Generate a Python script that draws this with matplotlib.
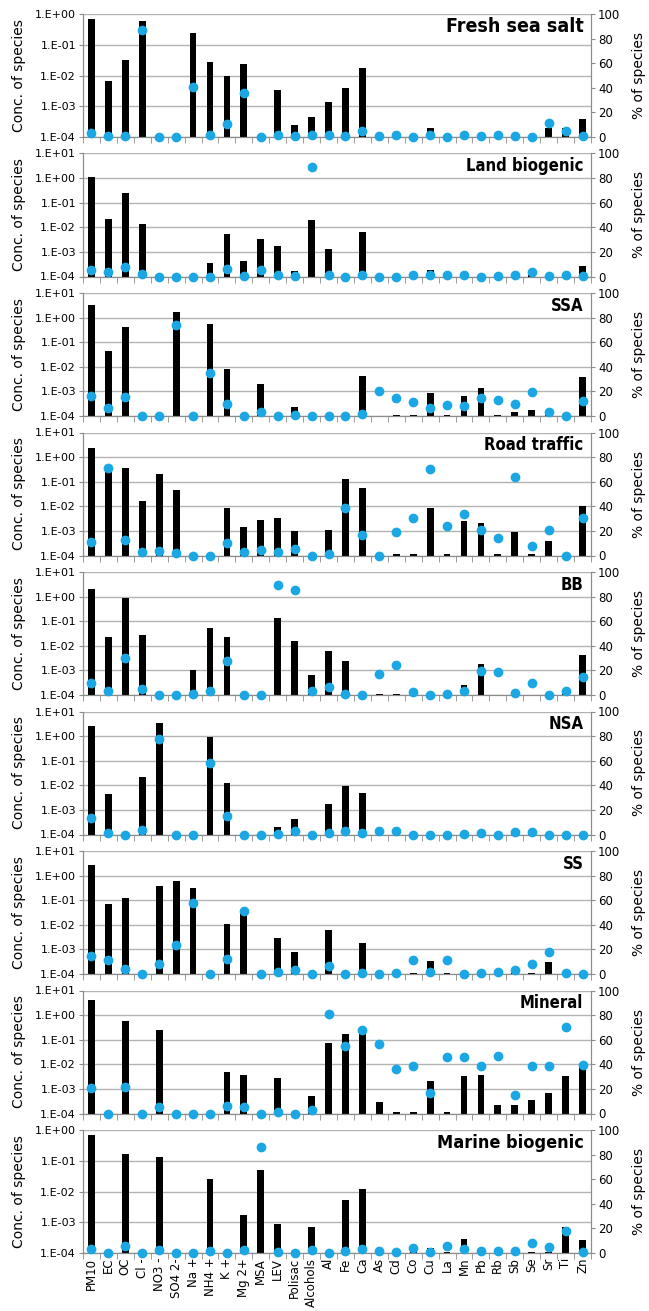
import numpy as np
import matplotlib
matplotlib.use('Agg')
import matplotlib.pyplot as plt
from matplotlib import font_manager
from matplotlib.ticker import FixedLocator, FuncFormatter

species = ['PM10', 'EC', 'OC', 'Cl -', 'NO3 -', 'SO4 2-', 'Na +', 'NH4 +', 'K +', 'Mg 2+',
           'MSA', 'LEV', 'Polisac', 'Alcohols', 'Al', 'Fe', 'Ca', 'As', 'Cd', 'Co',
           'Cu', 'La', 'Mn', 'Pb', 'Rb', 'Sb', 'Se', 'Sr', 'Ti', 'Zn']

T = 1.1e-4  # barely visible bars

fresh_conc = [0.69, 6.6e-3, 0.031, 0.59, 0, 0, 0.24, 0.028, 0.010, 0.023, 0, 3.5e-3, 2.4e-4, 4.6e-4, 1.4e-3,
              3.8e-3, 0.018, 0, T, 0, 1.9e-4, 0, 1.5e-4, 0, 0, 0, 0, 2.0e-4, 2.0e-4, 3.8e-4]
fresh_pct = [3, 0.5, 0.5, 87, 0, 0, 41, 1.5, 10.5, 36, 0, 2, 1, 1.5, 1.5,
             1, 5, 0.5, 1.5, 0, 1.5, 0, 1.5, 1, 1.5, 1, 0, 11.5, 4.5, 1]

land_conc = [1.1, 0.022, 0.24, 0.013, 0, 0, 0, 3.5e-4, 5.5e-3, 4.2e-4, 3.3e-3, 1.8e-3, 1.6e-4, 0.019, 1.3e-3,
             0, 6.3e-3, 0, 0, 0, 1.9e-4, 0, 0, 0, 0, 0, T, 0, T, 2.6e-4]
land_pct = [5, 3.5, 8, 2, 0, 0, 0, 0, 6, 0.5, 5, 1, 0.5, 89, 1,
            0, 1.5, 0, 0, 1, 1.5, 1.5, 1, 0, 0.5, 1, 4, 0.5, 1.5, 0.5]

ssa_conc = [3.2, 0.043, 0.43, 0, 0, 1.7, 0, 0.55, 8e-3, 0, 2e-3, 0, 2.3e-4, 0, 0,
            0, 4.3e-3, 0, T, T, 8.5e-4, T, 6.3e-4, 1.35e-3, T, 1.4e-4, 1.8e-4, T, 0, 4e-3]
ssa_pct = [16.5, 6.5, 15.5, 0, 0, 74, 0, 35, 9.5, 0, 3, 0, 1, 0, 0,
           0, 1.5, 20.5, 14.5, 11, 6.5, 9, 8, 14.5, 13, 10, 19.5, 3.5, 0, 12.5]

road_conc = [2.3, 0.4, 0.35, 0.016, 0.2, 0.045, 0, 0, 8.5e-3, 1.5e-3, 2.8e-3, 3.3e-3, 9.5e-4, 0, 1.1e-3,
             0.13, 0.055, 0, T, T, 8.5e-3, T, 2.5e-3, 2.0e-3, T, 9e-4, T, 3.8e-4, 0, 0.01]
road_pct = [11, 71.5, 12.5, 2.5, 4, 2, 0, 0, 10.5, 2.5, 4.5, 2.5, 5, 0, 1.5,
            38.5, 16.5, 0, 19, 30.5, 70, 24, 34, 21, 14, 63.5, 8, 21, 0, 30.5]

bb_conc = [2.0, 0.022, 0.9, 0.028, 0, 0, 1e-3, 0.055, 0.023, 0, 0, 0.13, 0.016, 6.5e-4, 6e-3,
           2.5e-3, 0, T, T, T, 0, 0, 2.5e-4, 1.9e-3, 0, 0, 0, 0, 1.4e-4, 4.3e-3]
bb_pct = [10, 3.5, 30, 4.5, 0, 0, 1, 3.5, 27.5, 0, 0, 89.5, 85, 3, 6.5,
          1, 0, 17, 24, 2.5, 0, 1, 3, 19.5, 18.5, 1.5, 10, 0, 3, 14.5]

nsa_conc = [2.6, 4.3e-3, 0, 0.022, 3.5, 0, 0, 0.95, 0.012, 0, 0, 2e-4, 4.2e-4, 0, 1.7e-3,
            9e-3, 5e-3, T, T, 0, 0, 0, 0, 1.5e-4, 0, T, T, 0, 0, 0]
nsa_pct = [13.5, 1, 0, 3.5, 78, 0, 0, 58, 15, 0, 0, 0.5, 2.5, 0, 1.5,
           3, 1.5, 2.5, 3, 0, 0, 0, 0.5, 1.5, 0, 2, 2, 0, 0, 0]

ss_conc = [2.7, 0.07, 0.12, 0, 0.38, 0.58, 0.3, 0, 0.0105, 0.035, 0, 3e-3, 7.8e-4, 0, 6.3e-3,
           0, 1.9e-3, 0, 0, T, 3.3e-4, T, 0, T, T, T, T, 3.2e-4, 0, 0]
ss_pct = [14.5, 11.5, 4, 0, 8.5, 23.5, 58, 0, 12.5, 51.5, 0, 1.5, 3.5, 0, 6.5,
          0, 0.5, 0, 0.5, 11, 2, 11, 0, 1, 2, 3.5, 8.5, 17.5, 1, 0]

mineral_conc = [4.2, 0, 0.6, 0, 0.24, 0, 0, 0, 5e-3, 3.8e-3, 0, 2.8e-3, 0, 5.2e-4, 0.075,
                0.17, 0.26, 3e-4, T, T, 2.1e-3, T, 3.4e-3, 3.6e-3, 2.3e-4, 2.2e-4, 3.7e-4, 7e-4, 3.2e-3, 9e-3]
mineral_pct = [21, 0, 21.5, 0, 5, 0, 0, 0, 6.5, 5.5, 0, 1.5, 0, 2.5, 81,
               54.5, 67.5, 56.5, 36, 38.5, 16.5, 46, 46, 38.5, 46.5, 15, 39, 38.5, 70.5, 39.5]

marine_conc = [0.7, 0, 0.17, 0, 0.13, 0, 0, 0.025, 0, 1.7e-3, 0.05, 8.5e-4, 0, 7e-4, 0,
               5.3e-3, 0.0125, T, 0, T, 1.5e-4, T, 2.8e-4, 1.5e-4, T, T, T, T, 7.2e-4, 2.7e-4]
marine_pct = [3, 0, 6, 0, 2.5, 0, 0, 1.5, 0, 2.5, 86, 0.5, 0, 2.5, 0,
              1.5, 3.5, 2, 0.5, 4, 1, 6, 3, 1.5, 1.5, 1.5, 8, 4.5, 18, 0.5]

titles = ['Fresh sea salt', 'Land biogenic', 'SSA', 'Road traffic', 'BB', 'NSA', 'SS', 'Mineral', 'Marine biogenic']
concs = [fresh_conc, land_conc, ssa_conc, road_conc, bb_conc, nsa_conc, ss_conc, mineral_conc, marine_conc]
pcts = [fresh_pct, land_pct, ssa_pct, road_pct, bb_pct, nsa_pct, ss_pct, mineral_pct, marine_pct]
ytops = [1e0, 1e1, 1e1, 1e1, 1e1, 1e1, 1e1, 1e1, 1e0]

# look for a narrow bold face for the panel titles
names = {f.name for f in font_manager.fontManager.ttflist}
cond_files = [f.fname for f in font_manager.fontManager.ttflist
              if 'DejaVu' in f.name and 'Condensed' in f.fname]
if 'Liberation Sans Narrow' in names:
    title_font = dict(family='Liberation Sans Narrow')
    title_sizes = [15, 13, 13, 13, 13, 13, 13, 13, 14]
elif cond_files:
    title_font = dict(family='DejaVu Sans', stretch='condensed')
    title_sizes = [14, 12, 12, 12, 12, 12, 12, 12, 13]
else:
    title_font = dict(family='DejaVu Sans')
    title_sizes = [12.5, 11, 11.5, 11, 11.5, 11.5, 11.5, 11, 12]

W, H = 649, 1311
fig = plt.figure(figsize=(W / 100, H / 100), dpi=100)

grey = '#8c8c8c'
blue = '#1aa7e3'
x = np.arange(len(species))

def sci(v, pos):
    return '1.E%+03d' % int(round(np.log10(v)))

for i in range(9):
    top_px = 14 + 139.5 * i
    ax = fig.add_axes([83 / W, 1 - (top_px + 123) / H, 508 / W, 123 / H])
    ax.set_yscale('log')
    ax.bar(x, concs[i], width=0.4, color='black', zorder=2)
    ax.set_ylim(1e-4, ytops[i])
    ax.set_xlim(-0.5, len(species) - 0.5)
    decs = 10.0 ** np.arange(-4, int(np.log10(ytops[i])) + 1)
    ax.yaxis.set_major_locator(FixedLocator(decs))
    ax.yaxis.set_minor_locator(FixedLocator([]))
    ax.yaxis.set_major_formatter(FuncFormatter(sci))
    ax.grid(axis='y', color='#b3b3b3', linewidth=1, zorder=0)
    ax.set_axisbelow(True)
    ax.tick_params(axis='y', labelsize=8, length=3, color=grey, pad=2)
    ax.set_ylabel('Conc. of species', fontsize=10)
    ax.yaxis.set_label_coords(-0.112, 0.5)

    ax.set_xticks(x)
    ax.set_xticks(np.arange(len(species) + 1) - 0.5, minor=True)
    ax.tick_params(axis='x', which='major', length=0)
    ax.tick_params(axis='x', which='minor', length=4, color=grey)
    if i == 8:
        ax.set_xticklabels(species, rotation=90, fontsize=8.5)
    else:
        ax.set_xticklabels([])
    for s in ax.spines.values():
        s.set_color(grey)
    ax.spines['top'].set_visible(False)

    ax2 = ax.twinx()
    ax2.plot(x, pcts[i], 'o', color=blue, markersize=6, clip_on=False, zorder=5)
    ax2.set_ylim(0, 100)
    ax2.set_yticks([0, 20, 40, 60, 80, 100])
    ax2.tick_params(axis='y', labelsize=8.5, length=3, color=grey, pad=2)
    ax2.set_ylabel('% of species', fontsize=10)
    ax2.yaxis.set_label_coords(1.08, 0.5)
    for s in ax2.spines.values():
        s.set_color(grey)
    ax2.spines['top'].set_visible(False)

    ax2.text(0.985, 0.895, titles[i], transform=ax2.transAxes, ha='right', va='center',
             fontsize=title_sizes[i], fontweight='bold', **title_font)

fig.savefig('out.png', dpi=100)
